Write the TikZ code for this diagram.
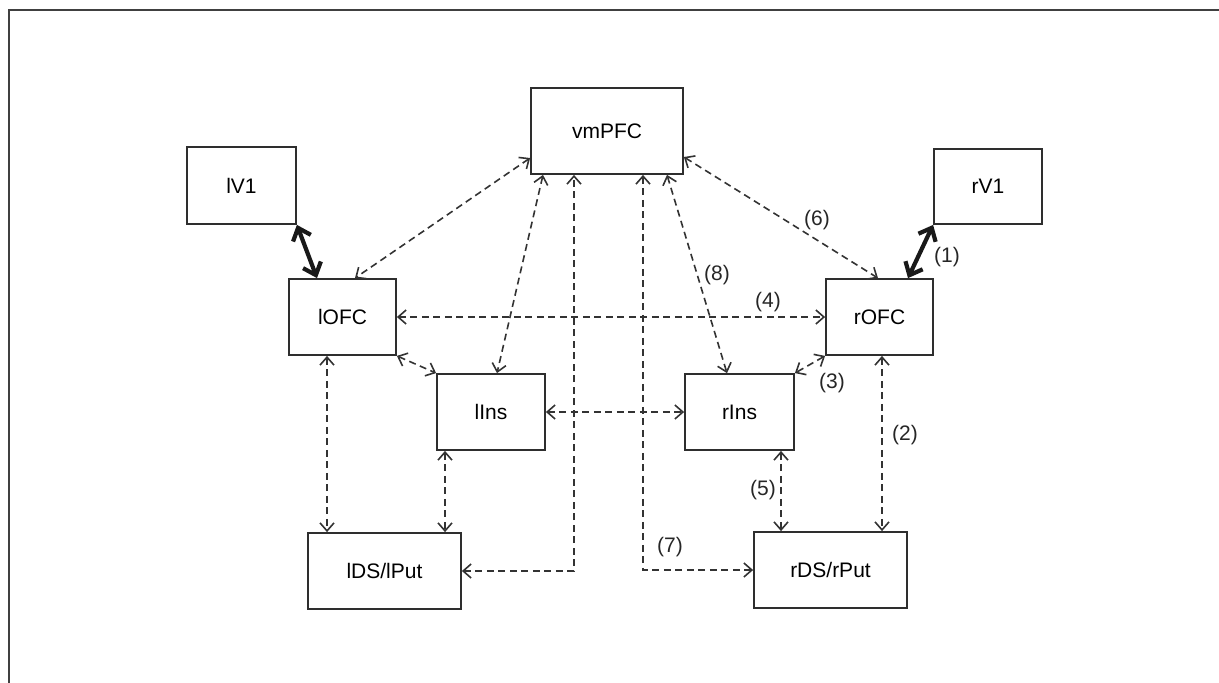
\documentclass[tikz,border=0pt]{standalone}
\usepackage{fontspec}
\setmainfont{Liberation Sans}
\usetikzlibrary{arrows.meta}
\begin{document}
\begin{tikzpicture}[x=1pt,y=-1pt,
  region/.style={draw=black!82, line width=1.8pt, fill=white, minimum width=#1,
    minimum height=76pt, inner sep=0pt, font=\fontsize{21}{25}\selectfont},
  link/.style={draw=black!80, line width=1.6pt, dash pattern=on 7pt off 4.5pt,
    {Straight Barb[length=8pt,width=14pt]}-{Straight Barb[length=8pt,width=14pt]}},
  bold link/.style={draw=black!90, line width=4.2pt,
    {Straight Barb[length=11pt,width=19pt]}-{Straight Barb[length=11pt,width=19pt]}},
  tag/.style={inner sep=0pt, text=black!85, font=\fontsize{21}{25}\selectfont}
]
\useasboundingbox (0,0) rectangle (1219,683);
% frame
\draw[draw=black!75, line width=2pt] (1219,10) -- (8.5,10) -- (8.5,683);

% regions
\node[region=152pt, minimum height=86pt] (vm) at (607,131) {vmPFC};
\node[region=109pt, minimum height=77pt] (lV) at (241.5,185.5) {lV1};
\node[region=108pt, minimum height=75pt] (rV) at (988,186.5) {rV1};
\node[region=107pt] (lO) at (342.5,317) {lOFC};
\node[region=107pt] (rO) at (879.5,317) {rOFC};
\node[region=108pt] (lI) at (491,412) {lIns};
\node[region=109pt] (rI) at (739.5,412) {rIns};
\node[region=153pt] (lD) at (384.5,571) {lDS/lPut};
\node[region=153pt] (rD) at (830.5,570) {rDS/rPut};

% visual cortex to OFC
\draw[bold link] (lV.south east) -- ([xshift=-25.5pt]lO.north);
\draw[bold link] (rV.south west) -- ([xshift=28.5pt]rO.north);

% vmPFC connections
\draw[link] ([yshift=-27pt]vm.west) -- ([xshift=12.5pt]lO.north);
\draw[link] ([yshift=-26pt]vm.east) -- ([xshift=-1.5pt]rO.north);
\draw[link] ([xshift=-64pt]vm.south) -- ([xshift=6pt]lI.north);
\draw[link] ([xshift=60pt]vm.south) -- ([xshift=-12.5pt]rI.north);
\draw[link] (lD.east) -| ([xshift=-33pt]vm.south);
\draw[link] ([xshift=36pt]vm.south) |- (rD.west);

% lateral connections
\draw[link] (lO.east) -- (rO.west);
\draw[link] (lI.east) -- (rI.west);
\draw[link] (lO.south east) -- (lI.north west);
\draw[link] (rO.south west) -- (rI.north east);

% striatal connections
\draw[link] ([xshift=-15.5pt]lO.south) -- ([xshift=-15.5pt]lO.south |- lD.north);
\draw[link] ([xshift=-46pt]lI.south) -- ([xshift=-46pt]lI.south |- lD.north);
\draw[link] ([xshift=41.5pt]rI.south) -- ([xshift=41.5pt]rI.south |- rD.north);
\draw[link] ([xshift=2.5pt]rO.south) -- ([xshift=2.5pt]rO.south |- rD.north);

% pathway numbers
\node[tag] (t1) at (947,257) {(1)};
\node[tag] (t2) at (905,435) {(2)};
\node[tag] (t3) at (832,383) {(3)};
\node[tag] (t4) at (768,302) {(4)};
\node[tag] (t5) at (763,490) {(5)};
\node[tag] (t6) at (817,220) {(6)};
\node[tag] (t7) at (670,547) {(7)};
\node[tag] (t8) at (717,275) {(8)};
\end{tikzpicture}
\end{document}
